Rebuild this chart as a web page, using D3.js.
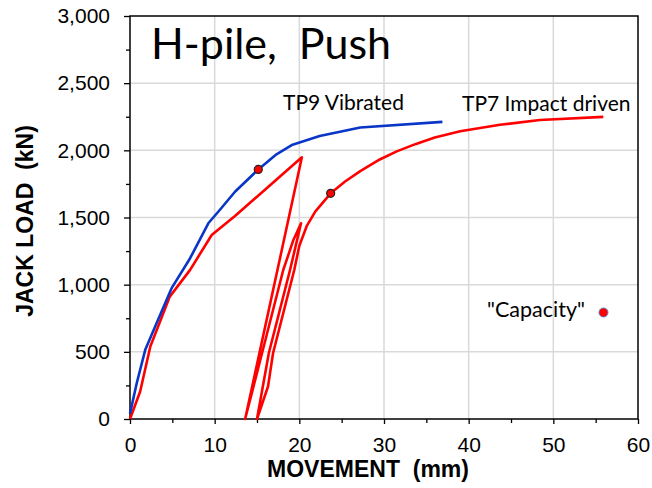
<!DOCTYPE html>
<html>
<head>
<meta charset="utf-8">
<script src="https://cdn.jsdelivr.net/npm/d3@7"></script>
<style>
  html, body { margin: 0; padding: 0; background: #fff; }
  svg { display: block; }
  text { white-space: pre; }
</style>
</head>
<body>
<svg id="chart" width="652" height="488"></svg>
<script>
// Pile load test: jack load vs. pile head movement

// TP9 vibrated pile, virgin loading curve [movement mm, load kN]
const tp9Vibrated = [
  [0, 40], [0.8, 268], [1.8, 515], [3.15, 714], [4.9, 972], [7.1, 1197],
  [9.25, 1457], [10.6, 1556], [12.4, 1692], [15.15, 1858], [17.3, 1970],
  [19.2, 2042], [22.4, 2106], [27.2, 2170], [36.9, 2212]
];

// TP7 impact-driven pile: loading, two unload/reload cycles, then loading to failure
const tp7Impact = [
  [0, 0], [1.2, 205], [2.4, 540], [4.7, 911], [7.1, 1110], [9.65, 1370],
  [12.4, 1511], [15, 1655], [20.3, 1948],
  // first unload
  [13.6, 0],
  // first reload
  [15.6, 491], [18.1, 1109], [19.3, 1333], [20.2, 1457],
  // second unload
  [18.9, 1109], [16.4, 491], [15.0, 0],
  // final reload and loading to failure
  [16.3, 242], [16.9, 491], [19.4, 1109], [20.0, 1290], [20.9, 1440],
  [21.9, 1545], [23.7, 1680], [25.4, 1768], [27.2, 1845], [29.5, 1932],
  [31.5, 1992], [33.7, 2046], [36.0, 2096], [39.0, 2142], [43.7, 2190],
  [48.4, 2226], [55.9, 2249]
];

// Interpreted capacities on each curve
const capacityPoints = [[15.15, 1858], [23.7, 1680]];

const xTicks = [0, 10, 20, 30, 40, 50, 60];
const xMinorTicks = [5, 15, 25, 35, 45, 55];
const yTicks = [0, 500, 1000, 1500, 2000, 2500, 3000];
const yMinorTicks = [250, 750, 1250, 1750, 2250, 2750];

const svg = d3.select("#chart");
const plotLeft = 130, plotRight = 638, plotTop = 16, plotBottom = 419;

const x = d3.scaleLinear().domain([0, 60]).range([plotLeft, plotRight]);
const y = d3.scaleLinear().domain([0, 3000]).range([plotBottom, plotTop]);

const tickFont = "'Liberation Sans', Arial, sans-serif";
const noteFont = "Lato, 'Open Sans', sans-serif";

// gridlines
const grid = svg.append("g").attr("stroke", "#d9d9d9").attr("stroke-width", 1.5);
grid.selectAll(".gx").data(xTicks.slice(1, -1)).join("line")
  .attr("x1", d => x(d)).attr("x2", d => x(d)).attr("y1", plotTop).attr("y2", plotBottom);
grid.selectAll(".gy").data(yTicks.slice(1, -1)).join("line")
  .attr("y1", d => y(d)).attr("y2", d => y(d)).attr("x1", plotLeft).attr("x2", plotRight);

// axes with minor ticks
const xAxis = svg.append("g").attr("transform", `translate(0,${plotBottom})`)
  .call(d3.axisBottom(x).tickValues(xTicks).tickSize(5).tickPadding(13)
    .tickFormat(d3.format("d")));
const xMinor = svg.append("g").attr("transform", `translate(0,${plotBottom})`)
  .call(d3.axisBottom(x).tickValues(xMinorTicks).tickSize(4).tickFormat(""));
const yAxis = svg.append("g").attr("transform", `translate(${plotLeft},0)`)
  .call(d3.axisLeft(y).tickValues(yTicks).tickSize(6).tickPadding(14)
    .tickFormat(d3.format(",")));
const yMinor = svg.append("g").attr("transform", `translate(${plotLeft},0)`)
  .call(d3.axisLeft(y).tickValues(yMinorTicks).tickSize(4).tickFormat(""));

[xAxis, xMinor, yAxis, yMinor].forEach(g => {
  g.select(".domain").remove();
  g.selectAll(".tick line").attr("stroke", "#000").attr("stroke-width", 1.3);
  g.selectAll(".tick text").attr("font-family", tickFont).attr("font-size", 21)
    .attr("fill", "#000");
});

// plot frame
svg.append("rect")
  .attr("x", plotLeft).attr("y", plotTop)
  .attr("width", plotRight - plotLeft).attr("height", plotBottom - plotTop)
  .attr("fill", "none").attr("stroke", "#000").attr("stroke-width", 1.5);

// curves
const line = d3.line().x(d => x(d[0])).y(d => y(d[1]));
svg.append("path").datum(tp7Impact).attr("d", line)
  .attr("fill", "none").attr("stroke", "#ff0000").attr("stroke-width", 2.6)
  .attr("stroke-linejoin", "round");
svg.append("path").datum(tp9Vibrated).attr("d", line)
  .attr("fill", "none").attr("stroke", "#0a36c8").attr("stroke-width", 2.6)
  .attr("stroke-linejoin", "round");

// capacity markers
svg.selectAll(".cap").data(capacityPoints).join("circle")
  .attr("cx", d => x(d[0])).attr("cy", d => y(d[1])).attr("r", 4)
  .attr("fill", "#ff0000").attr("stroke", "#222").attr("stroke-width", 1.2);

// legend item for capacity
svg.append("text").attr("x", 487).attr("y", 317)
  .attr("font-family", noteFont).attr("font-size", 21.5).text("\"Capacity\"");
svg.append("circle").attr("cx", 603.5).attr("cy", 312.5).attr("r", 4.5)
  .attr("fill", "#ff0000").attr("stroke", "#5b7fc4").attr("stroke-width", 1);

// curve labels
svg.append("text").attr("x", 283).attr("y", 110)
  .attr("font-family", noteFont).attr("font-size", 21).text("TP9 Vibrated");
svg.append("text").attr("x", 462).attr("y", 110.5)
  .attr("font-family", noteFont).attr("font-size", 21).text("TP7 Impact driven");

// title
svg.append("text").attr("x", 151).attr("y", 59)
  .attr("font-family", noteFont).attr("font-size", 43).text("H-pile,  Push");

// axis titles
svg.append("text").attr("x", 368).attr("y", 477).attr("text-anchor", "middle")
  .attr("font-family", tickFont).attr("font-weight", "bold").attr("font-size", 23)
  .text("MOVEMENT  (mm)");
svg.append("text").attr("transform", "translate(33,221) rotate(-90)")
  .attr("text-anchor", "middle")
  .attr("font-family", tickFont).attr("font-weight", "bold").attr("font-size", 23)
  .text("JACK LOAD  (kN)");
</script>
</body>
</html>
